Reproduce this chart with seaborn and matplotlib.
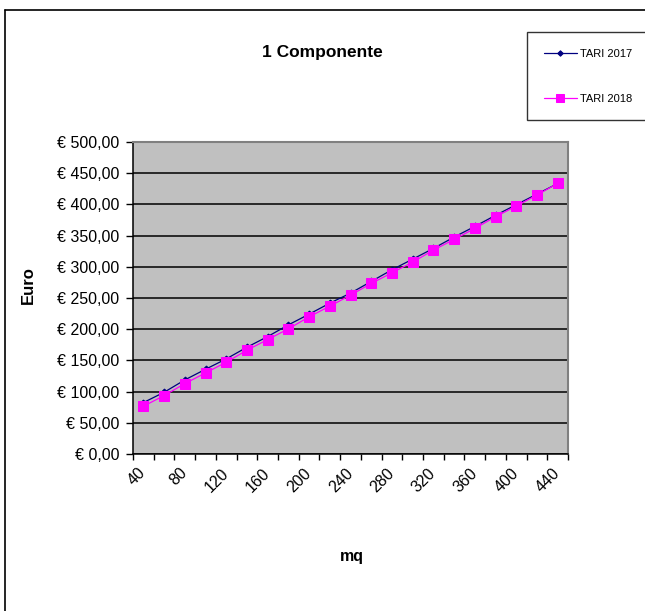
import matplotlib
matplotlib.use("Agg")
import matplotlib.pyplot as plt
from matplotlib.lines import Line2D
import numpy as np
import pandas as pd
import seaborn as sns

# Surface (mq) categories and yearly TARI amounts in euro
mq = [40, 60, 80, 100, 120, 140, 160, 180, 200, 220, 240,
      260, 280, 300, 320, 340, 360, 380, 400, 420, 440]
tari_2017 = [82.4, 98.9, 118.7, 135.8, 152.4, 171.1, 188.2, 206.9, 224.1, 241.7, 257.8,
             276.5, 295.2, 312.3, 329.4, 347.6, 364.7, 382.5, 399.5, 416.5, 433.5]
tari_2018 = [76.5, 93.6, 112.8, 129.9, 147.1, 166.3, 183.4, 200.5, 219.8, 236.9, 254.5,
             273.3, 290.4, 307.5, 326.7, 343.9, 361.5, 380.2, 397.3, 415.0, 433.7]
series_names = ["TARI 2017", "TARI 2018"]
x_labels = [40, 80, 120, 160, 200, 240, 280, 320, 360, 400, 440]
y_ticks = [0, 50, 100, 150, 200, 250, 300, 350, 400, 450, 500]

sns.set_style("white")
plt.rcParams["font.family"] = ["Liberation Sans", "DejaVu Sans"]
plt.rcParams["text.color"] = "black"
plt.rcParams["axes.labelcolor"] = "black"
plt.rcParams["xtick.color"] = "black"
plt.rcParams["ytick.color"] = "black"

df = pd.DataFrame({
    "mq": mq * 2,
    "euro": tari_2017 + tari_2018,
    "serie": [series_names[0]] * len(mq) + [series_names[1]] * len(mq),
})

W, H = 645, 611
fig = plt.figure(figsize=(W / 100, H / 100), dpi=100)
fig.patch.set_facecolor("white")
ax = fig.add_axes([133 / W, 1 - 454 / H, (568 - 133) / W, (454 - 142) / H])
ax.set_facecolor("#C0C0C0")

sns.lineplot(data=df[df["serie"] == series_names[0]], x="mq", y="euro",
             color="#000080", marker="D", markersize=3.5, markeredgecolor="#000080",
             linewidth=0.9, label=series_names[0], ax=ax, legend=False)
sns.lineplot(data=df[df["serie"] == series_names[1]], x="mq", y="euro",
             color="#FF00FF", marker="s", markersize=6.5, markeredgecolor="#FF00FF",
             linewidth=0.9, label=series_names[1], ax=ax, legend=False)

ax.set_xlim(30, 450)
ax.set_ylim(0, 500)

# category boundaries carry the tick marks, labels sit at category centres
ax.set_xticks(np.arange(30, 451, 20))
ax.set_xticklabels([])
ax.set_xticks(x_labels, minor=True)
ax.set_xticklabels([str(v) for v in x_labels], minor=True, rotation=45,
                   ha="right", va="center", rotation_mode="anchor", fontsize=11.5)
ax.tick_params(axis="x", which="major", direction="out", length=4, width=1,
               color="black", bottom=True)
ax.tick_params(axis="x", which="minor", length=0, pad=12)

ax.set_yticks(y_ticks)
ax.set_yticklabels([f"€ {v},00" for v in y_ticks], fontsize=11.5)
ax.tick_params(axis="y", direction="out", length=5, width=1, color="black", pad=5, left=True)

ax.yaxis.grid(True, color="black", linewidth=1.1)
ax.xaxis.grid(False)
ax.set_axisbelow(True)

for side in ["left", "bottom"]:
    ax.spines[side].set_color("black")
    ax.spines[side].set_linewidth(1.1)
for side in ["top", "right"]:
    ax.spines[side].set_color("#808080")
    ax.spines[side].set_linewidth(1.5)
    ax.spines[side].set_visible(True)

ax.set_xlabel("")
ax.set_ylabel("")

fig.text(322 / W, 1 - 53 / H, "1 Componente", ha="center", va="center",
         fontsize=12.5, fontweight="bold")
fig.text(28 / W, 1 - 285 / H, "Euro", ha="center", va="center",
         rotation=90, fontsize=12, fontweight="bold")
fig.text(352 / W, 1 - 557 / H, "mq", ha="center", va="center",
         fontsize=11.5, fontweight="bold")

handles, labels = ax.get_legend_handles_labels()
leg = fig.legend(handles, labels, loc="upper left",
                 bbox_to_anchor=(527 / W, 1 - 32 / H), bbox_transform=fig.transFigure,
                 borderaxespad=0, frameon=True, fancybox=False, fontsize=8,
                 handlelength=3.0, handletextpad=0.25, labelspacing=3.15,
                 borderpad=1.5, markerscale=0.8)
leg.get_frame().set_edgecolor("black")
leg.get_frame().set_linewidth(1.0)

# chart area border (top and left edges)
fig.add_artist(Line2D([4.5 / W, 4.5 / W], [0, 1 - 9.5 / H], transform=fig.transFigure,
                      color="black", linewidth=1.2))
fig.add_artist(Line2D([4.5 / W, 1], [1 - 9.5 / H, 1 - 9.5 / H], transform=fig.transFigure,
                      color="black", linewidth=1.2))

fig.savefig("out.png", dpi=100)
